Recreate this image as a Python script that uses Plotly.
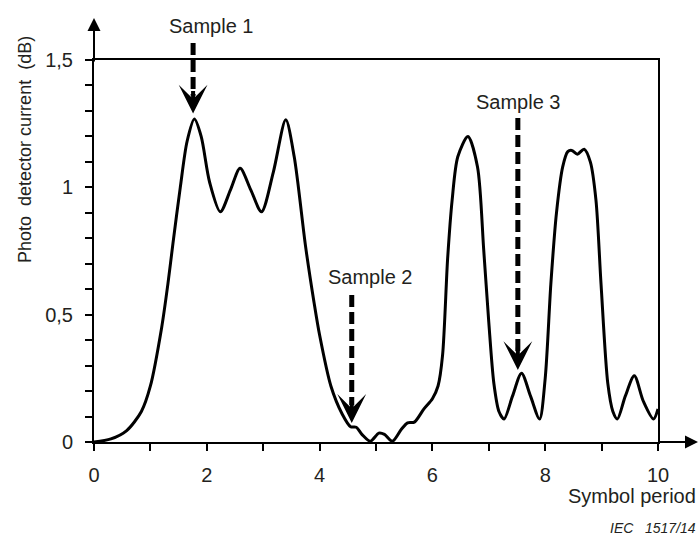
import plotly.graph_objects as go

# ---- data ----
symbol_period = [0, 0.3, 0.58, 0.84, 1.0, 1.2, 1.31, 1.4, 1.53, 1.65, 1.78, 1.9, 2.05, 2.24, 2.42, 2.59,
                 2.78, 2.97, 3.18, 3.40, 3.55, 3.75, 3.9, 4.0, 4.2, 4.4, 4.55, 4.65, 4.75, 4.9,
                 5.05, 5.15, 5.29, 5.45, 5.56, 5.68, 5.85, 6.0, 6.1, 6.18, 6.27, 6.35, 6.45,
                 6.63, 6.8, 6.91, 7.0, 7.09, 7.18, 7.27, 7.42, 7.58, 7.74, 7.9, 8.0, 8.1, 8.2,
                 8.31, 8.4, 8.47, 8.57, 8.69, 8.8, 8.9, 8.99, 9.11, 9.2, 9.28, 9.42, 9.58, 9.74,
                 9.92, 10.0]
current_db = [0.0, 0.012, 0.045, 0.12, 0.22, 0.45, 0.62, 0.78, 1.0, 1.18, 1.268, 1.2, 1.02, 0.904, 0.99, 1.075,
              0.99, 0.904, 1.06, 1.265, 1.12, 0.77, 0.55, 0.42, 0.22, 0.11, 0.06, 0.058, 0.03, 0.003,
              0.035, 0.03, 0.003, 0.05, 0.075, 0.078, 0.13, 0.17, 0.22, 0.34, 0.72, 0.95, 1.12,
              1.2, 1.08, 0.754, 0.47, 0.23, 0.12, 0.09, 0.18, 0.27, 0.18, 0.09, 0.25, 0.62, 0.9,
              1.08, 1.14, 1.145, 1.13, 1.15, 1.1, 0.95, 0.62, 0.23, 0.12, 0.09, 0.18, 0.26, 0.16,
              0.09, 0.13]

y_range = [0, 1.5]
x_range = [0, 10]
y_tick_vals = [0, 0.5, 1, 1.5]
y_tick_text = ["0", "0,5", "1", "1,5"]
x_tick_vals = [0, 2, 4, 6, 8, 10]
x_tick_text = ["0", "2", "4", "6", "8", "10"]

sample_labels = ["Sample 1", "Sample 2", "Sample 3"]
sample_x = [1.757, 4.57, 7.515]          # arrow positions
sample_tip_y = [1.29, 0.075, 0.283]      # arrow tips
sample_start_y = [1.567, 0.577, 1.272]   # arrow tails
sample_label_x = [2.085, 4.91, 7.52]
sample_label_y = [1.633, 0.648, 1.335]

FONT = "Liberation Sans, Arial, sans-serif"
TXT = "#231f20"


def px(v):
    return (v - x_range[0]) / (x_range[1] - x_range[0])


def py(v):
    return (v - y_range[0]) / (y_range[1] - y_range[0])


fig = go.Figure()
fig.add_trace(go.Scatter(
    x=symbol_period, y=current_db, mode="lines",
    line=dict(color="black", width=3, shape="spline", smoothing=0.8),
    showlegend=False, hoverinfo="skip", cliponaxis=True,
))

shapes = []
annotations = []
for lab, sx, ty, sy, lx, ly in zip(sample_labels, sample_x, sample_tip_y, sample_start_y,
                                   sample_label_x, sample_label_y):
    shapes.append(dict(type="line", xref="paper", yref="paper", x0=px(sx), x1=px(sx),
                       y0=py(sy), y1=py(ty + 0.07),
                       line=dict(color="black", width=5, dash="12px,5px")))
    annotations.append(dict(xref="paper", yref="paper", x=px(sx), y=py(ty), ax=0, ay=-24, text="",
                            showarrow=True, arrowhead=3, arrowwidth=4, arrowsize=1.2,
                            arrowcolor="black"))
    annotations.append(dict(xref="paper", yref="paper", x=px(lx), y=py(ly), text=lab, showarrow=False,
                            xanchor="center", yanchor="middle",
                            font=dict(family=FONT, size=20, color=TXT)))

# axis arrows
annotations.append(dict(xref="paper", yref="paper", x=1.071, y=0, ax=-40, ay=0, text="",
                        showarrow=True, arrowhead=2, arrowwidth=2, arrowsize=1.3, arrowcolor="black"))
annotations.append(dict(xref="paper", yref="paper", x=0, y=1.11, ax=0, ay=45, text="",
                        showarrow=True, arrowhead=2, arrowwidth=2, arrowsize=1.3, arrowcolor="black"))

# axis titles
annotations.append(dict(xref="paper", yref="paper", x=-0.122, y=0.765, textangle=-90,
                        text="Photo\u00a0 detector current\u00a0 (dB)", showarrow=False,
                        xanchor="center", yanchor="middle",
                        font=dict(family=FONT, size=18, color=TXT)))
annotations.append(dict(xref="paper", yref="paper", x=1.071, y=-0.141, text="Symbol period",
                        showarrow=False, xanchor="right", yanchor="middle",
                        font=dict(family=FONT, size=20, color=TXT)))
annotations.append(dict(xref="paper", yref="paper", x=1.071, y=-0.225,
                        text="<i>IEC\u00a0\u00a0 1517/14</i>",
                        showarrow=False, xanchor="right", yanchor="middle",
                        font=dict(family=FONT, size=14, color=TXT)))

fig.update_layout(
    width=699, height=538,
    margin=dict(l=94, r=41, t=60, b=96),
    paper_bgcolor="white", plot_bgcolor="white",
    shapes=shapes, annotations=annotations,
    xaxis=dict(range=x_range, tickvals=x_tick_vals, ticktext=x_tick_text,
               showline=True, linecolor="black", linewidth=2, mirror=True,
               ticks="outside", ticklen=7, tickwidth=2, tickcolor="black",
               minor=dict(dtick=1, tick0=0, ticks="outside", ticklen=7, tickwidth=2, tickcolor="black"),
               showgrid=False, zeroline=False, ticklabelstandoff=7,
               tickfont=dict(family=FONT, size=20, color=TXT)),
    yaxis=dict(range=y_range, tickvals=y_tick_vals, ticktext=y_tick_text,
               showline=True, linecolor="black", linewidth=2, mirror=True,
               ticks="outside", ticklen=7, tickwidth=2, tickcolor="black",
               minor=dict(dtick=0.1, tick0=0, ticks="outside", ticklen=7, tickwidth=2, tickcolor="black"),
               showgrid=False, zeroline=False, ticklabelstandoff=8,
               tickfont=dict(family=FONT, size=20, color=TXT)),
)

fig.write_html("out.html")
